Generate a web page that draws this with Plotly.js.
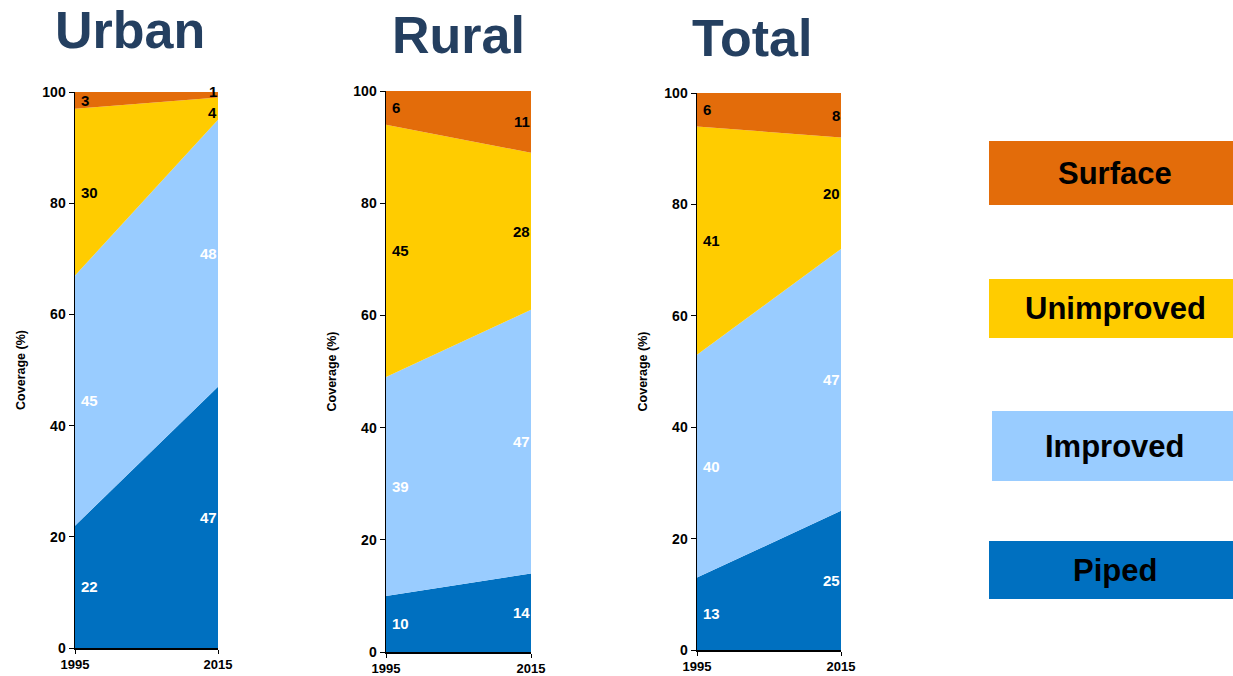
<!DOCTYPE html>
<html>
<head>
<meta charset="utf-8">
<script src="https://cdn.plot.ly/plotly-3.0.1.min.js"></script>
<style>html,body{margin:0;padding:0;background:#fff;}#chart{width:1233px;height:676px;}</style>
</head>
<body>
<div id="chart"></div>
<script>
const years = [1995, 2015];
const categories = ["Piped", "Improved", "Unimproved", "Surface"];
const panels = ["Urban", "Rural", "Total"];
const urbanPiped = [22, 47];
const urbanImproved = [45, 48];
const urbanUnimproved = [30, 4];
const urbanSurface = [3, 1];
const ruralPiped = [10, 14];
const ruralImproved = [39, 47];
const ruralUnimproved = [45, 28];
const ruralSurface = [6, 11];
const totalPiped = [13, 25];
const totalImproved = [40, 47];
const totalUnimproved = [41, 20];
const totalSurface = [6, 8];
const yTicks = [0, 20, 40, 60, 80, 100];

const colors = {Piped: "#0070C0", Improved: "#99CCFF", Unimproved: "#FFCC00", Surface: "#E36C0A"};
const labelColors = {Piped: "#FFFFFF", Improved: "#FFFFFF", Unimproved: "#000000", Surface: "#000000"};

const panelData = [
  [urbanPiped, urbanImproved, urbanUnimproved, urbanSurface],
  [ruralPiped, ruralImproved, ruralUnimproved, ruralSurface],
  [totalPiped, totalImproved, totalUnimproved, totalSurface]
];

const xDomains = [[75/1233, 218/1233], [386/1233, 531/1233], [697/1233, 841/1233]];
const yDomains = [[1-648/676, 1-92/676], [1-652/676, 1-91/676], [1-650/676, 1-93/676]];
const titleX = [130/1233, 458/1233, 752/1233];
const titleY = [1-30/676, 1-35/676, 1-38/676];

const traces = [];
const annotations = [];
const layout = {
  width: 1233, height: 676,
  margin: {l: 0, r: 0, t: 0, b: 0},
  paper_bgcolor: "#fff", plot_bgcolor: "#fff",
  showlegend: false,
  font: {family: "Liberation Sans, Arial, sans-serif", color: "#000"},
  shapes: []
};

panelData.forEach((series, p) => {
  const xa = p === 0 ? "x" : "x" + (p + 1);
  const ya = p === 0 ? "y" : "y" + (p + 1);
  const pxPerUnit = (yDomains[p][1] - yDomains[p][0]) * 676 / 100;
  const cum = [0, 0];
  const prevMidPx = [null, null];
  const prevIdx = [null, null];
  series.forEach((vals, i) => {
    const cat = categories[i];
    traces.push({
      type: "scatter", mode: "lines", x: years, y: vals,
      stackgroup: "s" + p, xaxis: xa, yaxis: ya,
      line: {width: 0}, fillcolor: colors[cat], name: cat, hoverinfo: "skip"
    });
    vals.forEach((v, j) => {
      const mid = cum[j] + v / 2;
      const midPx = mid * pxPerUnit;
      let yshift = 0;
      if (prevMidPx[j] !== null && midPx - prevMidPx[j] < 17) {
        // small adjacent segments: nudge labels apart so they do not collide
        yshift = 3;
        annotations[prevIdx[j]].yshift = -4;
      }
      annotations.push({
        xref: xa, yref: ya, x: years[j], y: mid, text: String(v),
        showarrow: false, xanchor: j === 0 ? "left" : "right",
        xshift: j === 0 ? 4 : 1, yshift: yshift,
        font: {size: 15, color: labelColors[cat], weight: "bold", family: "Liberation Sans, Arial, sans-serif"}
      });
      prevIdx[j] = annotations.length - 1;
      prevMidPx[j] = midPx;
      cum[j] += v;
    });
  });
  const axSuffix = p === 0 ? "" : String(p + 1);
  layout["xaxis" + axSuffix] = {
    domain: xDomains[p], range: [1995, 2015], anchor: ya,
    tickvals: years, ticktext: years.map(String), ticks: "outside", ticklen: 4,
    tickcolor: "#000", showline: true, linecolor: "#000", linewidth: 1.5,
    showgrid: false, zeroline: false,
    tickfont: {size: 13, weight: "bold", color: "#000"}
  };
  layout["yaxis" + axSuffix] = {
    domain: yDomains[p], range: [0, 100], anchor: xa,
    tickvals: yTicks, ticks: "outside", ticklen: 5, tickcolor: "#000",
    showline: true, linecolor: "#000", linewidth: 1.5,
    showgrid: false, zeroline: false,
    tickfont: {size: 14, weight: "bold", color: "#000"},
    title: {text: "Coverage (%)", font: {size: 12.5, weight: "bold", color: "#000"}, standoff: 14}
  };
  annotations.push({
    xref: "paper", yref: "paper",
    x: titleX[p], y: titleY[p],
    text: panels[p], showarrow: false, xanchor: "center", yanchor: "middle",
    font: {size: 52, weight: "bold", color: "#243F60", family: "Liberation Sans, Arial, sans-serif"}
  });
});

// legend boxes
const legendBoxes = [
  {cat: "Surface", y0: 141, y1: 205, x0: 989},
  {cat: "Unimproved", y0: 279, y1: 338, x0: 989},
  {cat: "Improved", y0: 411, y1: 481, x0: 992},
  {cat: "Piped", y0: 541, y1: 599, x0: 989}
];
legendBoxes.forEach(b => {
  layout.shapes.push({
    type: "rect", xref: "paper", yref: "paper",
    x0: b.x0/1233, x1: 1, y0: 1 - b.y1/676, y1: 1 - b.y0/676,
    fillcolor: colors[b.cat], line: {width: 0}, layer: "above"
  });
  annotations.push({
    xref: "paper", yref: "paper", x: 1115/1233, y: 1 - (b.y0 + b.y1)/2/676,
    text: b.cat, showarrow: false, xanchor: "center", yanchor: "middle",
    font: {size: 31, weight: "bold", color: "#000", family: "Liberation Sans, Arial, sans-serif"}
  });
});

layout.annotations = annotations;
Plotly.newPlot("chart", traces, layout, {displayModeBar: false, staticPlot: true});
</script>
</body>
</html>
